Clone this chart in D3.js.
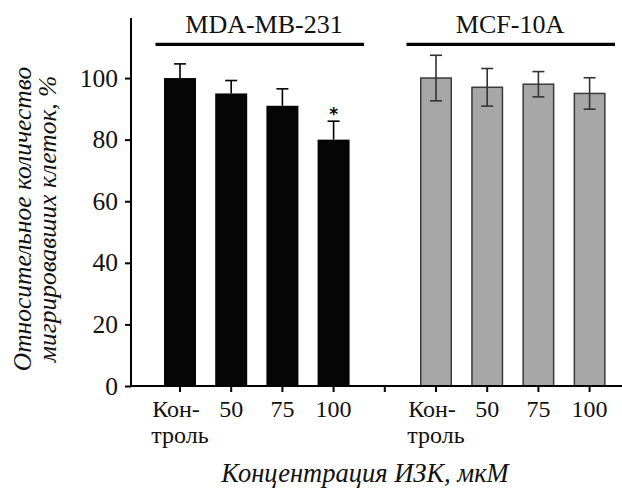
<!DOCTYPE html>
<html>
<head>
<meta charset="utf-8">
<script src="https://cdn.jsdelivr.net/npm/d3@7"></script>
<style>
  html, body { margin: 0; padding: 0; background: #fff; }
</style>
</head>
<body>
<svg id="chart" width="622" height="489"></svg>
<script>
// ---- data ----
const slots = ["mda_ctrl", "mda_50", "mda_75", "mda_100", "gap", "mcf_ctrl", "mcf_50", "mcf_75", "mcf_100"];
const slotLabels = [["Кон-", "троль"], ["50"], ["75"], ["100"], [], ["Кон-", "троль"], ["50"], ["75"], ["100"]];
const mdaSlots = ["mda_ctrl", "mda_50", "mda_75", "mda_100"];
const mdaValues = [100, 95, 91, 80];
const mdaErrors = [4.6, 4.2, 5.5, 6.0];
const mcfSlots = ["mcf_ctrl", "mcf_50", "mcf_75", "mcf_100"];
const mcfValues = [100, 97, 98, 95];
const mcfErrors = [7.4, 6.1, 4.1, 5.1];
const significant = ["mda_100"];
const yTicks = [0, 20, 40, 60, 80, 100];
const groupNames = ["MDA-MB-231", "MCF-10A"];
const yTitle = ["Относительное количество", "мигрировавших клеток, %"];
const xTitle = "Концентрация ИЗК, мкМ";

const SERIF = "'Liberation Serif', 'Times New Roman', Times, serif";
const svg = d3.select("#chart");
const axisX = 131, axisRight = 622, y0 = 386, yTop = 18;

const x = d3.scaleBand().domain(slots).range([154.4, 615.2]).padding(0);
const y = d3.scaleLinear().domain([0, 119.5]).range([y0, yTop]);
const barW = x.bandwidth() * 0.625;
const cx = s => x(s) + x.bandwidth() / 2;

const mda = mdaSlots.map((s, i) => ({ s, v: mdaValues[i], e: mdaErrors[i] }));
const mcf = mcfSlots.map((s, i) => ({ s, v: mcfValues[i], e: mcfErrors[i] }));

function errorBars(data, color, lowerVisible) {
  const g = svg.append("g").attr("stroke", color).attr("stroke-width", 1.6);
  data.forEach(d => {
    g.append("line").attr("x1", cx(d.s)).attr("x2", cx(d.s))
      .attr("y1", y(d.v + d.e)).attr("y2", lowerVisible ? y(d.v - d.e) : y(d.v));
    g.append("line").attr("x1", cx(d.s) - 6).attr("x2", cx(d.s) + 6)
      .attr("y1", y(d.v + d.e)).attr("y2", y(d.v + d.e));
    if (lowerVisible) {
      g.append("line").attr("x1", cx(d.s) - 6).attr("x2", cx(d.s) + 6)
        .attr("y1", y(d.v - d.e)).attr("y2", y(d.v - d.e));
    }
  });
}

// bars
svg.append("g").selectAll("rect").data(mda).join("rect")
  .attr("x", d => cx(d.s) - barW / 2).attr("width", barW)
  .attr("y", d => y(d.v)).attr("height", d => y0 - y(d.v))
  .attr("fill", "#050505");
errorBars(mda, "#000", false);

svg.append("g").selectAll("rect").data(mcf).join("rect")
  .attr("x", d => cx(d.s) - barW / 2 + 0.75).attr("width", barW - 1.5)
  .attr("y", d => y(d.v)).attr("height", d => y0 - y(d.v))
  .attr("fill", "#a7a7a7").attr("stroke", "#3a3a3a").attr("stroke-width", 1.5);
errorBars(mcf, "#333", true);

// significance star
svg.selectAll("text.star").data(significant).join("text").attr("class", "star")
  .attr("x", d => cx(d))
  .attr("y", d => { const m = mda.find(q => q.s === d); return y(m.v + m.e) - 1; })
  .attr("text-anchor", "middle")
  .style("font-family", "'DejaVu Sans', sans-serif").style("font-weight", "bold").style("font-size", "17px")
  .text("*");

// y axis
const yAxis = svg.append("g").attr("transform", `translate(${axisX},0)`)
  .call(d3.axisLeft(y).tickValues(yTicks).tickSize(6).tickPadding(7).tickFormat(d3.format("d")));
yAxis.select(".domain").remove();
yAxis.append("line").attr("x1", 0).attr("x2", 0).attr("y1", yTop).attr("y2", y0 + 1)
  .attr("stroke", "#000").attr("stroke-width", 2);
yAxis.selectAll(".tick line").attr("stroke", "#000").attr("stroke-width", 2);
yAxis.selectAll(".tick text").style("font-family", SERIF).style("font-size", "25.5px").attr("fill", "#111");

// x axis
const xAxis = svg.append("g").attr("transform", `translate(0,${y0})`)
  .call(d3.axisBottom(x).tickSize(6).tickFormat(""));
xAxis.select(".domain").remove();
xAxis.append("line").attr("x1", axisX - 1).attr("x2", axisRight).attr("y1", 0).attr("y2", 0)
  .attr("stroke", "#000").attr("stroke-width", 2);
xAxis.selectAll(".tick line").attr("stroke", "#000").attr("stroke-width", 2);

const lbl = svg.append("g").selectAll("text").data(slots).join("text")
  .attr("text-anchor", "middle").attr("fill", "#111")
  .style("font-family", SERIF).style("font-size", "24px");
lbl.each(function (s, i) {
  const lines = slotLabels[i];
  lines.forEach((t, j) => {
    d3.select(this).append("tspan").attr("x", cx(s) + (lines.length > 1 && j === 0 ? -4 : 0))
      .attr("y", y0 + 31 + j * 26).text(t);
  });
});

// group headers
const groups = [
  { name: groupNames[0], from: 155.5, to: 364, tx: 264 },
  { name: groupNames[1], from: 406.5, to: 615, tx: 510 }
];
const gh = svg.append("g");
groups.forEach(g => {
  gh.append("line").attr("x1", g.from).attr("x2", g.to).attr("y1", 44.3).attr("y2", 44.3)
    .attr("stroke", "#000").attr("stroke-width", 3.3);
  gh.append("text").attr("x", g.tx).attr("y", 33).attr("text-anchor", "middle")
    .attr("fill", "#111").style("font-family", SERIF).style("font-size", "26px").text(g.name);
});

// axis titles
svg.append("text").attr("x", 365).attr("y", 481.5).attr("text-anchor", "middle").attr("fill", "#111")
  .style("font-family", SERIF).style("font-size", "26.5px").style("font-style", "italic").text(xTitle);

const yt = svg.append("text").attr("transform", "translate(0,219) rotate(-90)")
  .attr("text-anchor", "middle").attr("fill", "#111")
  .style("font-family", SERIF).style("font-size", "25.5px").style("font-style", "italic");
yTitle.forEach((t, j) => {
  yt.append("tspan").attr("x", 0).attr("y", 30.5 + j * 25).text(t);
});
</script>
</body>
</html>
